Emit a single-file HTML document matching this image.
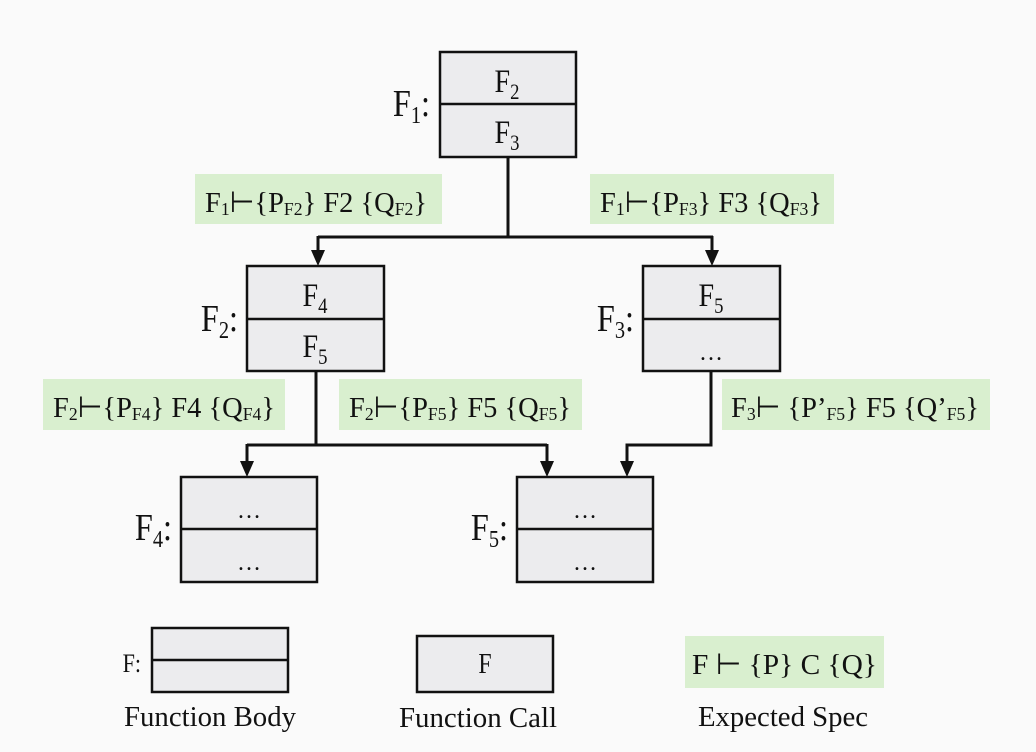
<!DOCTYPE html>
<html><head><meta charset="utf-8"><style>
html,body{margin:0;padding:0;background:#fafafa;}
svg{display:block;font-family:"Liberation Serif",serif;}
.b{fill:#ececee;stroke:#111;stroke-width:2.5}
.g{fill:#d9efcf}
.l{stroke:#111;stroke-width:3;fill:none}
.d{stroke:#111;stroke-width:2.5}
</style></head><body>
<svg width="1036" height="752" viewBox="0 0 1036 752">
<rect width="1036" height="752" fill="#fafafa"/>
<!-- green labels -->
<rect class="g" x="195" y="174" width="247" height="50"/>
<rect class="g" x="590" y="174" width="244" height="50"/>
<rect class="g" x="43" y="379" width="242" height="51"/>
<rect class="g" x="339" y="379" width="243" height="51"/>
<rect class="g" x="722" y="379" width="268" height="51"/>
<rect class="g" x="685" y="636" width="199" height="52"/>
<g font-size="29" fill="#111">
<text x="205" y="212" textLength="222" lengthAdjust="spacingAndGlyphs">F<tspan font-size="18" dy="3">1</tspan><tspan dy="-3">⊢{P</tspan><tspan font-size="18" dy="3">F2</tspan><tspan dy="-3">} F2 {Q</tspan><tspan font-size="18" dy="3">F2</tspan><tspan dy="-3">}</tspan></text>
<text x="600" y="212" textLength="222" lengthAdjust="spacingAndGlyphs">F<tspan font-size="18" dy="3">1</tspan><tspan dy="-3">⊢{P</tspan><tspan font-size="18" dy="3">F3</tspan><tspan dy="-3">} F3 {Q</tspan><tspan font-size="18" dy="3">F3</tspan><tspan dy="-3">}</tspan></text>
<text x="53" y="417" textLength="222" lengthAdjust="spacingAndGlyphs">F<tspan font-size="18" dy="3">2</tspan><tspan dy="-3">⊢{P</tspan><tspan font-size="18" dy="3">F4</tspan><tspan dy="-3">} F4 {Q</tspan><tspan font-size="18" dy="3">F4</tspan><tspan dy="-3">}</tspan></text>
<text x="349" y="417" textLength="222" lengthAdjust="spacingAndGlyphs">F<tspan font-size="18" dy="3">2</tspan><tspan dy="-3">⊢{P</tspan><tspan font-size="18" dy="3">F5</tspan><tspan dy="-3">} F5 {Q</tspan><tspan font-size="18" dy="3">F5</tspan><tspan dy="-3">}</tspan></text>
<text x="731" y="417" textLength="248" lengthAdjust="spacingAndGlyphs">F<tspan font-size="18" dy="3">3</tspan><tspan dy="-3">⊢ {P’</tspan><tspan font-size="18" dy="3">F5</tspan><tspan dy="-3">} F5 {Q’</tspan><tspan font-size="18" dy="3">F5</tspan><tspan dy="-3">}</tspan></text>
<text x="692" y="674" textLength="185" lengthAdjust="spacingAndGlyphs">F ⊢ {P} C {Q}</text>
</g>
<!-- connectors -->
<path class="l" d="M508,157 V237 M318,237 H713 M318,236 V252 M712,236 V252"/>
<path class="l" d="M316,371 V445 M247,445 H547 M247,444 V462 M547,444 V462"/>
<path class="l" d="M711,371 V445 H627 V462"/>
<g fill="#111">
<polygon points="311,250 325,250 318,266"/>
<polygon points="705,250 719,250 712,266"/>
<polygon points="240,461 254,461 247,477"/>
<polygon points="540,461 554,461 547,477"/>
<polygon points="620,461 634,461 627,477"/>
</g>
<!-- boxes -->
<rect class="b" x="440" y="52" width="136" height="105"/><line class="d" x1="440" y1="104" x2="576" y2="104"/>
<rect class="b" x="247" y="266" width="137" height="105"/><line class="d" x1="247" y1="319" x2="384" y2="319"/>
<rect class="b" x="643" y="266" width="137" height="105"/><line class="d" x1="643" y1="319" x2="780" y2="319"/>
<rect class="b" x="181" y="477" width="136" height="105"/><line class="d" x1="181" y1="529" x2="317" y2="529"/>
<rect class="b" x="517" y="477" width="136" height="105"/><line class="d" x1="517" y1="529" x2="653" y2="529"/>
<rect class="b" x="152" y="628" width="136" height="64"/><line class="d" x1="152" y1="660" x2="288" y2="660"/>
<rect class="b" x="417" y="636" width="136" height="56"/>
<g font-size="33" fill="#111" text-anchor="middle">
<text transform="translate(507,92) scale(0.85,1)">F<tspan font-size="22" dy="7">2</tspan></text>
<text transform="translate(507,143) scale(0.85,1)">F<tspan font-size="22" dy="7">3</tspan></text>
<text transform="translate(315,306) scale(0.85,1)">F<tspan font-size="22" dy="7">4</tspan></text>
<text transform="translate(315,357) scale(0.85,1)">F<tspan font-size="22" dy="7">5</tspan></text>
<text transform="translate(711,306) scale(0.85,1)">F<tspan font-size="22" dy="7">5</tspan></text>
<text x="711" y="360" font-size="24">…</text>
<text x="249" y="518" font-size="24">…</text>
<text x="249" y="570" font-size="24">…</text>
<text x="585" y="518" font-size="24">…</text>
<text x="585" y="570" font-size="24">…</text>
<text transform="translate(485,673) scale(0.85,1)" font-size="28">F</text>
</g>
<g font-size="38" fill="#111" text-anchor="end">
<text transform="translate(430,116) scale(0.85,1)">F<tspan font-size="24" dy="7">1</tspan><tspan dy="-7">:</tspan></text>
<text transform="translate(238,331) scale(0.85,1)">F<tspan font-size="24" dy="7">2</tspan><tspan dy="-7">:</tspan></text>
<text transform="translate(634,331) scale(0.85,1)">F<tspan font-size="24" dy="7">3</tspan><tspan dy="-7">:</tspan></text>
<text transform="translate(172,540) scale(0.85,1)">F<tspan font-size="24" dy="7">4</tspan><tspan dy="-7">:</tspan></text>
<text transform="translate(508,540) scale(0.85,1)">F<tspan font-size="24" dy="7">5</tspan><tspan dy="-7">:</tspan></text>
<text transform="translate(141,672) scale(0.85,1)" font-size="26">F:</text>
</g>
<g font-size="28" fill="#111" text-anchor="middle">
<text x="210" y="726" textLength="172" lengthAdjust="spacingAndGlyphs">Function Body</text>
<text x="478" y="727" textLength="158" lengthAdjust="spacingAndGlyphs">Function Call</text>
<text x="783" y="726" textLength="170" lengthAdjust="spacingAndGlyphs">Expected Spec</text>
</g>
</svg>
</body></html>
